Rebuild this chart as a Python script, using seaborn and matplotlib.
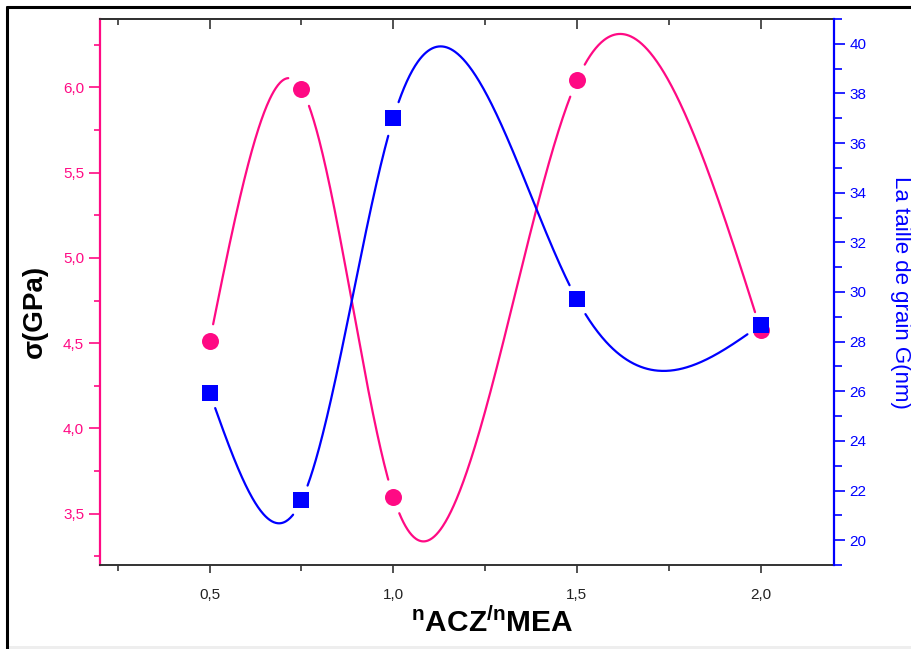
import numpy as np
import pandas as pd
import matplotlib
matplotlib.use("Agg")
import matplotlib.pyplot as plt
import seaborn as sns
from matplotlib.ticker import MultipleLocator, FuncFormatter, FixedLocator
from matplotlib.lines import Line2D
from matplotlib.patches import Rectangle

# ---- data ----
ratio = [0.5, 0.75, 1.0, 1.5, 2.0]
sigma_gpa = [4.51, 5.99, 3.60, 6.04, 4.58]
grain_nm = [25.95, 21.60, 37.0, 29.7, 28.67]

x_ticks = [0.5, 1.0, 1.5, 2.0]
sigma_ticks = [3.5, 4.0, 4.5, 5.0, 5.5, 6.0]
grain_ticks = [20, 22, 24, 26, 28, 30, 32, 34, 36, 38, 40]

PINK = "#ff0a84"
BLUE = "#0000ff"

sns.set_theme(style="white")
plt.rcParams["font.family"] = ["Liberation Sans", "DejaVu Sans"]
plt.rcParams["mathtext.fontset"] = "custom"
plt.rcParams["mathtext.rm"] = "Liberation Sans"
plt.rcParams["mathtext.bf"] = "Liberation Sans:bold"
plt.rcParams["mathtext.it"] = "Liberation Sans:italic"


def natural_spline(x, y, xs):
    x = np.asarray(x, float)
    y = np.asarray(y, float)
    n = len(x)
    h = np.diff(x)
    A = np.zeros((n, n))
    b = np.zeros(n)
    A[0, 0] = 1
    A[-1, -1] = 1
    for i in range(1, n - 1):
        A[i, i - 1] = h[i - 1]
        A[i, i] = 2 * (h[i - 1] + h[i])
        A[i, i + 1] = h[i]
        b[i] = 6 * ((y[i + 1] - y[i]) / h[i] - (y[i] - y[i - 1]) / h[i - 1])
    M = np.linalg.solve(A, b)
    idx = np.clip(np.searchsorted(x, xs) - 1, 0, n - 2)
    hi = h[idx]
    t1 = x[idx + 1] - xs
    t0 = xs - x[idx]
    return (M[idx] * t1**3 / (6 * hi) + M[idx + 1] * t0**3 / (6 * hi)
            + (y[idx] / hi - M[idx] * hi / 6) * t1
            + (y[idx + 1] / hi - M[idx + 1] * hi / 6) * t0)


def gapped(axis, xd, yd, xs, ys, r):
    pts = axis.transData.transform(np.column_stack([xs, ys]))
    mk = axis.transData.transform(np.column_stack([xd, yd]))
    d = np.hypot(pts[:, None, 0] - mk[None, :, 0], pts[:, None, 1] - mk[None, :, 1]).min(axis=1)
    return np.where(d < r, np.nan, ys)


W, H = 912, 649
fig = plt.figure(figsize=(W / 100, H / 100), dpi=100)
L, R, T, B = 99.5, 834, 19, 565
ax = fig.add_axes([L / W, 1 - B / H, (R - L) / W, (B - T) / H])
ax2 = ax.twinx()

ax.set_xlim(0.2, 2.2)
ax.set_ylim(3.2, 6.4)
ax2.set_ylim(19, 41)

xs = np.linspace(min(ratio), max(ratio), 800)
ys_s = gapped(ax, ratio, sigma_gpa, xs, natural_spline(ratio, sigma_gpa, xs), 17)
ys_g = gapped(ax2, ratio, grain_nm, xs, natural_spline(ratio, grain_nm, xs), 16)

ax.plot(xs, ys_s, color=PINK, lw=1.6, zorder=2)
df_s = pd.DataFrame({"ratio": ratio, "sigma": sigma_gpa})
sns.scatterplot(data=df_s, x="ratio", y="sigma", ax=ax, color=PINK, marker="o",
                s=150, linewidth=0, zorder=3, legend=False)

ax2.plot(xs, ys_g, color=BLUE, lw=1.6, zorder=2)
df_g = pd.DataFrame({"ratio": ratio, "grain": grain_nm})
sns.scatterplot(data=df_g, x="ratio", y="grain", ax=ax2, color=BLUE, marker="s",
                s=120, linewidth=0, zorder=3, legend=False)

fmt = FuncFormatter(lambda v, p: f"{v:.1f}".replace(".", ","))
ax.xaxis.set_major_locator(FixedLocator(x_ticks))
ax.xaxis.set_minor_locator(MultipleLocator(0.25))
ax.xaxis.set_major_formatter(fmt)
ax.yaxis.set_major_locator(FixedLocator(sigma_ticks))
ax.yaxis.set_minor_locator(MultipleLocator(0.25))
ax.yaxis.set_major_formatter(fmt)
ax2.yaxis.set_major_locator(FixedLocator(grain_ticks))
ax2.yaxis.set_minor_locator(MultipleLocator(1))

ax.tick_params(axis="x", which="both", direction="out", bottom=True, top=False,
               colors="#222222", labelcolor="#222222", labelsize=11, width=1.1, pad=10.5)
ax.tick_params(axis="x", which="major", length=6)
ax.tick_params(axis="x", which="minor", length=4)
ax.tick_params(axis="y", which="both", direction="out", left=True, right=False,
               colors=PINK, labelcolor=PINK, labelsize=11, width=1.2, pad=3)
ax.tick_params(axis="y", which="major", length=8)
ax.tick_params(axis="y", which="minor", length=4)
ax2.tick_params(axis="y", which="both", direction="out", right=True, left=False,
                colors=BLUE, labelcolor=BLUE, labelsize=11, width=1.2, pad=3)
ax2.tick_params(axis="y", which="major", length=8)
ax2.tick_params(axis="y", which="minor", length=5.5)

sec = ax.secondary_xaxis("top")
sec.xaxis.set_major_locator(FixedLocator(x_ticks))
sec.xaxis.set_minor_locator(MultipleLocator(0.25))
sec.tick_params(axis="x", which="both", direction="in", labeltop=False, colors="#222222", width=1.1)
sec.tick_params(axis="x", which="major", length=7)
sec.tick_params(axis="x", which="minor", length=4)
sec.spines["top"].set_color("#333333")
sec.spines["top"].set_linewidth(1.4)

for s in ["top", "bottom"]:
    ax.spines[s].set_color("#333333")
    ax.spines[s].set_linewidth(1.4)
ax.spines["left"].set_color(PINK)
ax.spines["left"].set_linewidth(1.6)
ax.spines["right"].set_visible(False)
for s in ["top", "bottom", "left"]:
    ax2.spines[s].set_visible(False)
ax2.spines["right"].set_color(BLUE)
ax2.spines["right"].set_linewidth(1.6)
ax.grid(False)
ax2.grid(False)

ax.set_ylabel("σ(GPa)", fontsize=20, fontweight="bold", color="black", va="center")
ax.yaxis.set_label_coords((35 - L) / (R - L), (B - 311) / (B - T))
ax2.set_ylabel("La taille de grain G(nm)", rotation=270, color=BLUE, fontsize=16,
               va="center", ha="center")
ax2.yaxis.set_label_coords((901 - L) / (R - L), (B - 292) / (B - T))
ax.set_xlabel(r"$\mathbf{{}^{n}ACZ{}^{/n}MEA}$", fontsize=21.5, color="black", va="center")
ax.xaxis.set_label_coords((492 - L) / (R - L), -(623 - B) / (B - T))

# outer frame
fig.add_artist(Line2D([7 / W, 7 / W], [0, 1 - 7 / H], transform=fig.transFigure,
                      color="black", lw=2.2))
fig.add_artist(Line2D([7 / W, 1], [1 - 7 / H, 1 - 7 / H], transform=fig.transFigure,
                      color="black", lw=2.2))
fig.add_artist(Rectangle((8 / W, 0), 1, 3 / H, transform=fig.transFigure,
                         color="#eeeeee", lw=0))

fig.savefig("out.png", dpi=100)
